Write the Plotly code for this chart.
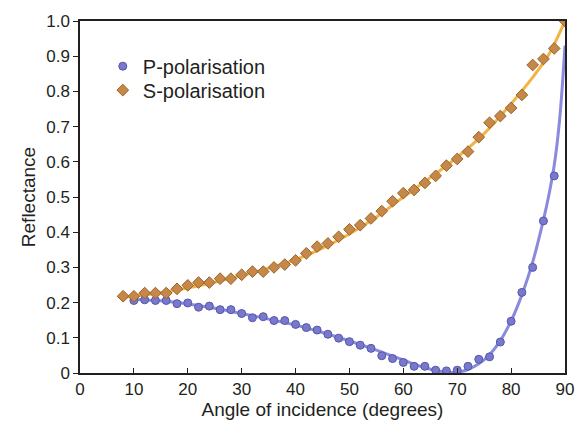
import plotly.graph_objects as go

# Measured points
p_angle = [10, 12, 14, 16, 18, 20, 22, 24, 26, 28, 30, 32, 34, 36, 38, 40, 42, 44, 46, 48,
           50, 52, 54, 56, 58, 60, 62, 64, 66, 68, 70, 72, 74, 76, 78, 80, 82, 84, 86, 88]
p_refl = [0.206, 0.208, 0.206, 0.206, 0.197, 0.199, 0.187, 0.190, 0.180, 0.180,
          0.169, 0.157, 0.160, 0.149, 0.149, 0.138, 0.129, 0.122, 0.110, 0.099,
          0.089, 0.079, 0.070, 0.049, 0.041, 0.030, 0.019, 0.019, 0.008, 0.006,
          0.008, 0.019, 0.039, 0.046, 0.088, 0.147, 0.229, 0.300, 0.432, 0.560]

s_angle = [8, 10, 12, 14, 16, 18, 20, 22, 24, 26, 28, 30, 32, 34, 36, 38, 40, 42, 44, 46,
           48, 50, 52, 54, 56, 58, 60, 62, 64, 66, 68, 70, 72, 74, 76, 78, 80, 82, 84, 86, 88, 90]
s_refl = [0.218, 0.218, 0.227, 0.227, 0.227, 0.239, 0.249, 0.257, 0.257, 0.268,
          0.268, 0.279, 0.288, 0.288, 0.300, 0.308, 0.320, 0.340, 0.359, 0.368,
          0.387, 0.408, 0.420, 0.439, 0.460, 0.488, 0.511, 0.520, 0.540, 0.560,
          0.589, 0.608, 0.629, 0.670, 0.711, 0.730, 0.753, 0.790, 0.875, 0.892,
          0.922, 1.000]

# Fitted curves
p_fit_angle = [10, 15, 20, 25, 30, 35, 40, 45, 50, 55, 60, 63, 66, 68, 70, 72, 74, 76,
               78, 80, 82, 84, 86, 87, 88, 89, 90]
p_fit_refl = [0.209, 0.205, 0.196, 0.184, 0.169, 0.153, 0.136, 0.115, 0.091, 0.065,
              0.037, 0.020, 0.007, 0.002, 0.002, 0.010, 0.026, 0.052, 0.092, 0.148,
              0.222, 0.315, 0.435, 0.505, 0.590, 0.720, 0.930]

s_fit_angle = [8, 15, 20, 25, 30, 35, 40, 45, 50, 55, 60, 65, 70, 75, 80, 84, 87, 90]
s_fit_refl = [0.215, 0.228, 0.242, 0.258, 0.277, 0.298, 0.322, 0.355, 0.395, 0.443,
              0.500, 0.555, 0.613, 0.680, 0.765, 0.840, 0.905, 1.000]

x_ticks = [0, 10, 20, 30, 40, 50, 60, 70, 80, 90]
y_ticks = [0, 0.1, 0.2, 0.3, 0.4, 0.5, 0.6, 0.7, 0.8, 0.9, 1.0]
y_ticktext = ["0", "0.1", "0.2", "0.3", "0.4", "0.5", "0.6", "0.7", "0.8", "0.9", "1.0"]

fig = go.Figure()

fig.add_trace(go.Scatter(x=p_fit_angle, y=p_fit_refl, mode="lines", line_shape="spline",
                         line=dict(color="#8a8ade", width=3), showlegend=False,
                         hoverinfo="skip"))
fig.add_trace(go.Scatter(x=s_fit_angle, y=s_fit_refl, mode="lines", line_shape="spline",
                         line=dict(color="#f4b445", width=3), showlegend=False,
                         hoverinfo="skip"))
fig.add_trace(go.Scatter(x=p_angle, y=p_refl, mode="markers", name="P-polarisation",
                         legend="legend",
                         marker=dict(symbol="circle", size=8, color="#7878cc",
                                     line=dict(color="#5656ac", width=1))))
fig.add_trace(go.Scatter(x=s_angle, y=s_refl, mode="markers", name="S-polarisation",
                         legend="legend2",
                         marker=dict(symbol="diamond", size=9, color="#c6884a",
                                     line=dict(color="#9a6424", width=1))))

font = "Liberation Sans, Arial, sans-serif"
leg_common = dict(xanchor="left", yanchor="top", bgcolor="rgba(0,0,0,0)",
                  font=dict(size=20), itemwidth=30)
fig.update_layout(
    width=586, height=428,
    margin=dict(l=80, r=15, t=19, b=54),
    paper_bgcolor="white", plot_bgcolor="white",
    font=dict(family=font, size=16, color="#231f20"),
    legend=dict(x=0.047, y=0.927, **leg_common),
    legend2=dict(x=0.047, y=0.859, **leg_common),
    xaxis=dict(range=[0, 90], tickvals=x_ticks, ticks="inside", ticklen=5,
               tickcolor="#231f20", showline=True, linecolor="#231f20", linewidth=1.5,
               mirror=True, showgrid=False, zeroline=False,
               title=dict(text="Angle of incidence (degrees)", standoff=4),
               tickfont=dict(size=17)),
    yaxis=dict(range=[0, 1.0], tickvals=y_ticks, ticktext=y_ticktext, ticks="outside",
               ticklen=5, tickcolor="#231f20", showline=True, linecolor="#231f20",
               linewidth=1.5, mirror=True, showgrid=False, zeroline=False,
               title=dict(text="Reflectance", standoff=6), tickfont=dict(size=17)),
)

fig.write_html("out.html")
